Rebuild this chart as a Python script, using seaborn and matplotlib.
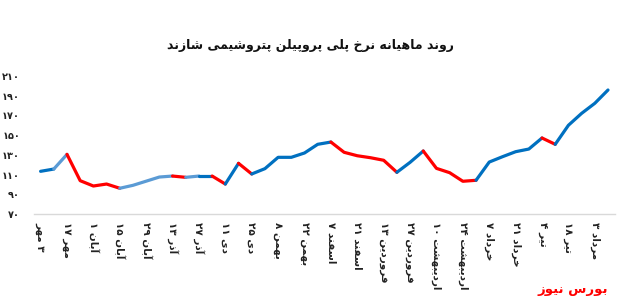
import re
import matplotlib
matplotlib.use("Agg")
import matplotlib.pyplot as plt
import seaborn as sns
import pandas as pd

# ---------------- data ----------------
title = "روند ماهیانه نرخ پلی پروپیلن پتروشیمی شازند"
source = "بورس نیوز"

values = [113.3, 115.6, 130.5, 103.8, 98.4, 100.4, 96.1, 99.1, 103.3, 107.5,
          108.5, 107.2, 108.5, 108.5, 100.4, 121.4, 110.6, 116.0, 127.5, 127.5,
          131.9, 140.7, 143.0, 132.6, 129.1, 127.1, 124.5, 112.3, 122.4, 133.9,
          116.3, 111.9, 103.2, 104.2, 122.7, 128.1, 133.2, 135.9, 147.1, 140.7,
          160.0, 172.1, 182.3, 195.8]

# colour class of each segment (point i -> i+1): d = dark blue, l = light blue, r = red
segment_class = ["d", "l", "r", "r", "r", "r", "l", "l", "l", "l",
                 "r", "l", "d", "r", "d", "r", "d", "d", "d", "d",
                 "d", "d", "r", "r", "r", "r", "r", "d", "d", "r",
                 "r", "r", "r", "d", "d", "d", "d", "d", "r", "d",
                 "d", "d", "d"]

tick_labels = ["۳ مهر", "۱۷ مهر", "۱ آبان", "۱۵ آبان", "۲۹ آبان", "۱۳ آذر",
               "۲۷ آذر", "۱۱ دی", "۲۵ دی", "۸ بهمن", "۲۲ بهمن", "۷ اسفند",
               "۲۱ اسفند", "۱۳ فروردین", "۲۷ فروردین", "۱۰ اردیبهشت",
               "۲۴ اردیبهشت", "۷ خرداد", "۲۱ خرداد", "۴ تیر", "۱۸ تیر", "۳ مرداد"]

y_ticks = [70, 90, 110, 130, 150, 170, 190, 210]
y_tick_labels = ["۷۰", "۹۰", "۱۱۰", "۱۳۰", "۱۵۰", "۱۷۰", "۱۹۰", "۲۱۰"]

class_colors = {"d": "#0070C0", "l": "#5B9BD5", "r": "#FF0000"}

# ---------------- minimal Arabic/Persian shaping ----------------
FORMS = {
    'ا': ('\uFE8D', '\uFE8E', None, None),
    'آ': ('\uFE81', '\uFE82', None, None),
    'ب': ('\uFE8F', '\uFE90', '\uFE91', '\uFE92'),
    'پ': ('\uFB56', '\uFB57', '\uFB58', '\uFB59'),
    'ت': ('\uFE95', '\uFE96', '\uFE97', '\uFE98'),
    'خ': ('\uFEA5', '\uFEA6', '\uFEA7', '\uFEA8'),
    'د': ('\uFEA9', '\uFEAA', None, None),
    'ذ': ('\uFEAB', '\uFEAC', None, None),
    'ر': ('\uFEAD', '\uFEAE', None, None),
    'ز': ('\uFEAF', '\uFEB0', None, None),
    'س': ('\uFEB1', '\uFEB2', '\uFEB3', '\uFEB4'),
    'ش': ('\uFEB5', '\uFEB6', '\uFEB7', '\uFEB8'),
    'ف': ('\uFED1', '\uFED2', '\uFED3', '\uFED4'),
    'ل': ('\uFEDD', '\uFEDE', '\uFEDF', '\uFEE0'),
    'م': ('\uFEE1', '\uFEE2', '\uFEE3', '\uFEE4'),
    'ن': ('\uFEE5', '\uFEE6', '\uFEE7', '\uFEE8'),
    'ه': ('\uFEE9', '\uFEEA', '\uFEEB', '\uFEEC'),
    'و': ('\uFEED', '\uFEEE', None, None),
    'ی': ('\uFBFC', '\uFBFD', '\uFBFE', '\uFBFF'),
}


def shape_word(w):
    out = []
    n = len(w)
    for i, c in enumerate(w):
        f = FORMS.get(c)
        if f is None:
            out.append(c)
            continue
        prev = w[i - 1] if i > 0 else None
        nxt = w[i + 1] if i + 1 < n else None
        pj = prev in FORMS and FORMS[prev][2] is not None
        nj = f[2] is not None and nxt in FORMS
        if pj and nj:
            out.append(f[3])
        elif pj:
            out.append(f[1])
        elif nj:
            out.append(f[2])
        else:
            out.append(f[0])
    return "".join(out)


def rtl(s):
    tokens = re.findall(r"[\u0621-\u064A\u067E\u0686\u0698\u06A9\u06AF\u06CC]+|[\u06F0-\u06F90-9]+|\s+|.", s)
    res = []
    for t in reversed(tokens):
        if t and t[0] in FORMS:
            res.append(shape_word(t)[::-1])
        else:
            res.append(t)
    return "".join(res)


def tick_text(s, i):
    if i == 0:
        return rtl(s)
    num, word = s.split(" ", 1)
    return num + " " + rtl(word)


# ---------------- build segments as runs ----------------
rows = []
run = 0
start = 0
for i in range(1, len(segment_class) + 1):
    if i == len(segment_class) or segment_class[i] != segment_class[start]:
        for p in range(start, i + 1):
            rows.append({"x": p, "v": values[p], "run": run, "cls": segment_class[start]})
        run += 1
        start = i
df = pd.DataFrame(rows)
palette = {r: class_colors[c] for r, c in df.groupby("run")["cls"].first().items()}

# ---------------- plot ----------------
sns.set_theme(style="white")
plt.rcParams["font.family"] = ["DejaVu Sans"]

fig = plt.figure(figsize=(6.18, 2.99), dpi=100)
ax = fig.add_axes([34 / 618, 85 / 299, 580.6 / 618, 138 / 299])

sns.lineplot(data=df, x="x", y="v", hue="run", palette=palette, legend=False,
             linewidth=2.3, sort=False, estimator=None, ax=ax,
             solid_capstyle="round", solid_joinstyle="round")

ax.set_xlim(-0.5, len(values) - 0.5)
ax.set_ylim(70, 210)
ax.set_xlabel("")
ax.set_ylabel("")

ax.set_yticks(y_ticks)
ax.set_yticklabels(y_tick_labels, fontsize=7, fontweight="bold", color="#222222")
ax.set_xticks(range(0, 2 * len(tick_labels), 2))
ax.set_xticklabels([tick_text(s, i) for i, s in enumerate(tick_labels)],
                   rotation=270, fontsize=7.5, fontweight="bold", color="#222222",
                   ha="center", va="top")
ax.tick_params(axis="both", length=0)
ax.tick_params(axis="y", pad=10)
ax.tick_params(axis="x", pad=6)

for s in ["top", "right", "left"]:
    ax.spines[s].set_visible(False)
ax.spines["bottom"].set_color("#D9D9D9")
ax.spines["bottom"].set_linewidth(1.0)
ax.grid(False)

fig.text(310 / 618, 1 - 45 / 299, rtl(title), ha="center", va="center",
         fontsize=9, fontweight="bold", color="#111111")
fig.text(608 / 618, 1 - 289 / 299, rtl(source), ha="right", va="center",
         fontsize=9.5, fontweight="bold", color="#FF0000")

fig.savefig("out.png", dpi=100)
